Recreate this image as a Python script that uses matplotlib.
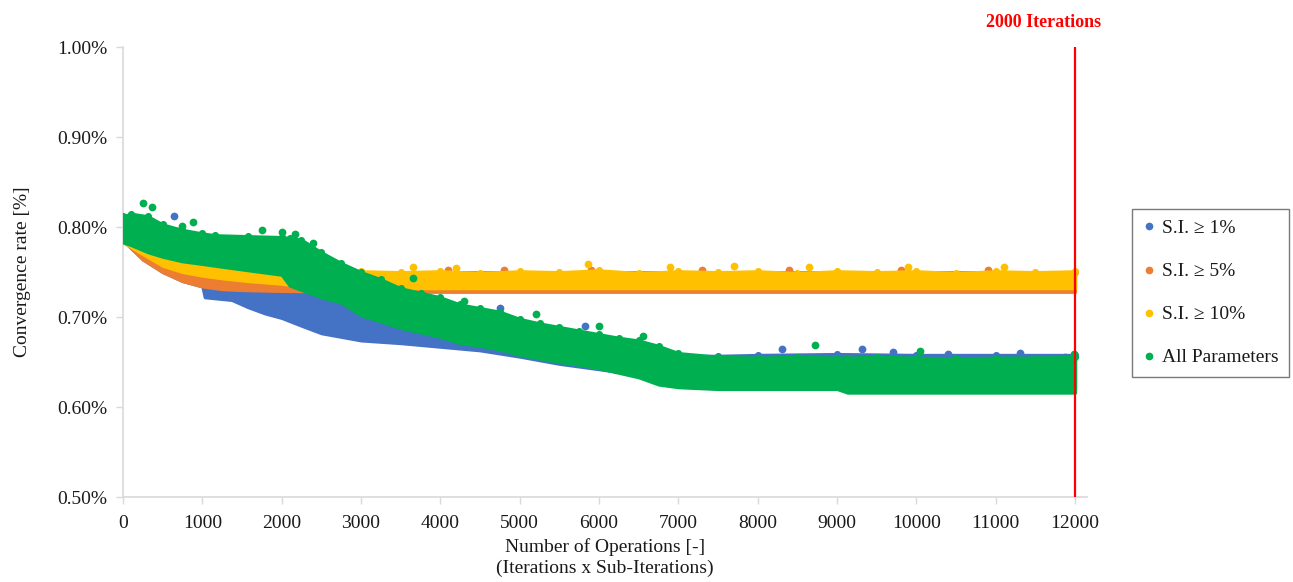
import matplotlib
matplotlib.use("Agg")
import matplotlib.pyplot as plt
from matplotlib.lines import Line2D
from matplotlib.ticker import FuncFormatter

# ---------------- data ----------------
series_names = ["S.I. \u2265 1%", "S.I. \u2265 5%", "S.I. \u2265 10%", "All Parameters"]
series_colors = ["#4472C4", "#ED7D31", "#FFC000", "#00B050"]

# S.I. >= 1 %  (blue)
blue_x = [0, 250, 500, 750, 1000, 1030, 1370, 1575, 1790, 2000, 2260, 2500, 2750, 3000,
          3500, 4000, 4500, 5000, 5500, 6000, 6500, 7000, 7500, 8000, 9000, 10000, 11000, 12000]
blue_lo = [0.785, 0.764, 0.750, 0.740, 0.734, 0.722, 0.719, 0.711, 0.704, 0.699, 0.690, 0.682,
           0.678, 0.674, 0.671, 0.667, 0.663, 0.656, 0.648, 0.642, 0.636, 0.630, 0.626, 0.625,
           0.624, 0.622, 0.621, 0.620]
blue_hi = [0.805, 0.800, 0.795, 0.790, 0.786, 0.784, 0.782, 0.780, 0.778, 0.775, 0.770, 0.752,
           0.740, 0.728, 0.715, 0.705, 0.697, 0.688, 0.680, 0.672, 0.664, 0.657, 0.657, 0.658,
           0.659, 0.658, 0.658, 0.658]
blue_out_x = [640, 4750, 5820, 8300, 9310, 9700, 10400, 11300, 11870]
blue_out_y = [0.812, 0.710, 0.690, 0.664, 0.664, 0.661, 0.659, 0.660, 0.656]

# S.I. >= 5 %  (orange)
orange_x = [0, 125, 250, 500, 750, 1000, 1250, 1500, 2000, 3000, 6000, 9000, 12000]
orange_lo = [0.785, 0.775, 0.764, 0.750, 0.740, 0.734, 0.731, 0.730, 0.729, 0.728, 0.728,
             0.728, 0.728]
orange_hi = [0.790, 0.785, 0.780, 0.770, 0.762, 0.757, 0.752, 0.750, 0.749, 0.750, 0.750,
             0.750, 0.750]
orange_out_x = [4100, 4800, 5900, 7300, 8400, 9800, 10900]
orange_out_y = [0.752, 0.752, 0.752, 0.752, 0.752, 0.752, 0.752]

# S.I. >= 10 %  (yellow)
yellow_x = [0, 250, 500, 750, 1000, 1250, 1575, 2000, 2250, 2500, 2750, 3000, 3500, 4000,
            4500, 5000, 5500, 6000, 6500, 7000, 7500, 8000, 8500, 9000, 9500, 10000, 10500,
            11000, 11500, 12000]
yellow_lo = [0.783, 0.770, 0.757, 0.750, 0.746, 0.743, 0.740, 0.737, 0.734, 0.733, 0.732,
             0.732, 0.732, 0.732, 0.732, 0.732, 0.732, 0.732, 0.732, 0.732, 0.732, 0.732,
             0.732, 0.732, 0.732, 0.732, 0.732, 0.732, 0.732, 0.732]
yellow_hi = [0.800, 0.795, 0.790, 0.785, 0.780, 0.775, 0.770, 0.765, 0.760, 0.754, 0.752,
             0.751, 0.750, 0.751, 0.749, 0.751, 0.750, 0.752, 0.749, 0.751, 0.750, 0.751,
             0.749, 0.751, 0.750, 0.751, 0.749, 0.751, 0.750, 0.751]
yellow_out_x = [3650, 4200, 5860, 6900, 7700, 8650, 9900, 11100]
yellow_out_y = [0.756, 0.755, 0.759, 0.756, 0.757, 0.756, 0.756, 0.756]

# All parameters  (green)
green_x = [0, 100, 315, 500, 745, 1000, 1160, 1575, 2000, 2100, 2250, 2500, 2750, 3000,
           3250, 3500, 3750, 4000, 4250, 4500, 4750, 5000, 5250, 5500, 5750, 6000, 6250,
           6500, 6750, 7000, 7500, 8000, 8500, 9000, 9130, 9500, 10000, 10500, 11000,
           11500, 12000]
green_lo = [0.783, 0.780, 0.772, 0.767, 0.762, 0.759, 0.757, 0.752, 0.747, 0.735, 0.730,
            0.722, 0.716, 0.702, 0.695, 0.688, 0.683, 0.678, 0.671, 0.668, 0.664, 0.658,
            0.654, 0.650, 0.647, 0.643, 0.638, 0.633, 0.625, 0.622, 0.620, 0.620, 0.620,
            0.620, 0.616, 0.616, 0.616, 0.616, 0.616, 0.616, 0.616]
green_hi = [0.812, 0.815, 0.812, 0.803, 0.797, 0.793, 0.791, 0.790, 0.789, 0.788, 0.786,
            0.772, 0.760, 0.750, 0.742, 0.732, 0.727, 0.722, 0.714, 0.710, 0.706, 0.698,
            0.693, 0.689, 0.685, 0.681, 0.677, 0.674, 0.668, 0.660, 0.656, 0.655, 0.656,
            0.655, 0.655, 0.656, 0.655, 0.654, 0.655, 0.655, 0.656]
green_out_x = [250, 365, 745, 880, 1750, 2000, 2170, 2400, 3660, 4300, 5200, 6000,
               6550, 8720, 10050, 11990]
green_out_y = [0.827, 0.822, 0.801, 0.806, 0.797, 0.794, 0.792, 0.782, 0.743, 0.718,
               0.703, 0.690, 0.679, 0.669, 0.662, 0.659]

x_ticks = [0, 1000, 2000, 3000, 4000, 5000, 6000, 7000, 8000, 9000, 10000, 11000, 12000]
y_ticks = [0.50, 0.60, 0.70, 0.80, 0.90, 1.00]
marker_line_x = 12000
marker_line_label = "2000 Iterations"
x_label = "Number of Operations [-]\n(Iterations x Sub-Iterations)"
y_label = "Convergence rate [%]"

# ---------------- drawing ----------------
serif = ["Liberation Serif", "DejaVu Serif"]
plt.rcParams["font.family"] = serif

fig = plt.figure(figsize=(12.93, 5.82), dpi=100)
ax = fig.add_axes([0.0951, 0.146, 0.7456, 0.773])

dot = 26  # marker area (pt^2), ~7 px dots


def draw_band(x, lo, hi, color, z, ox=None, oy=None):
    ax.fill_between(x, lo, hi, facecolor=color, edgecolor=color, lw=2.2, zorder=z,
                    joinstyle="round", capstyle="round")
    ax.scatter(x, hi, s=dot, color=color, lw=0, zorder=z)
    if ox is not None:
        ax.scatter(ox, oy, s=dot * 1.2, color=color, lw=0, zorder=z)


draw_band(blue_x, blue_lo, blue_hi, series_colors[0], 2, blue_out_x, blue_out_y)
draw_band(orange_x, orange_lo, orange_hi, series_colors[1], 3, orange_out_x, orange_out_y)
draw_band(yellow_x, yellow_lo, yellow_hi, series_colors[2], 4, yellow_out_x, yellow_out_y)
draw_band(green_x, green_lo, green_hi, series_colors[3], 5, green_out_x, green_out_y)

ax.axvline(marker_line_x, color="#FF0000", lw=1.6, zorder=6)
ax.text(0.8067, 0.962, marker_line_label, color="#FF0000", fontsize=13,
        fontweight="bold", ha="center", va="center", transform=fig.transFigure)

ax.set_xlim(0, 12150)
ax.set_ylim(0.50, 1.00)
ax.set_xticks(x_ticks)
ax.set_yticks(y_ticks)
ax.yaxis.set_major_formatter(FuncFormatter(lambda v, p: f"{v:.2f}%"))
ax.tick_params(axis="both", labelsize=14, colors="#D9D9D9", labelcolor="#1a1a1a",
               length=5, width=1, direction="out")
ax.tick_params(axis="x", pad=8)
ax.tick_params(axis="y", pad=6)
for s in ("top", "right"):
    ax.spines[s].set_visible(False)
for s in ("left", "bottom"):
    ax.spines[s].set_color("#D9D9D9")
    ax.spines[s].set_linewidth(1.2)

ax.set_xlabel(x_label, fontsize=14, color="#1a1a1a", linespacing=1.35, labelpad=4)
ax.set_ylabel(y_label, fontsize=14, color="#1a1a1a", labelpad=19)

handles = [Line2D([], [], ls="none", marker="o", ms=4.5, color=c) for c in series_colors]
leg = fig.legend(handles, series_names, loc="upper left", bbox_to_anchor=(0.8755, 0.641),
                 frameon=True, fancybox=False, fontsize=14, labelspacing=1.31,
                 handlelength=0.6, handletextpad=0.4, borderpad=0.55, borderaxespad=0)
leg.get_frame().set_edgecolor("#595959")
leg.get_frame().set_linewidth(1.0)
for t in leg.get_texts():
    t.set_color("#1a1a1a")

fig.savefig("out.png", dpi=100)
